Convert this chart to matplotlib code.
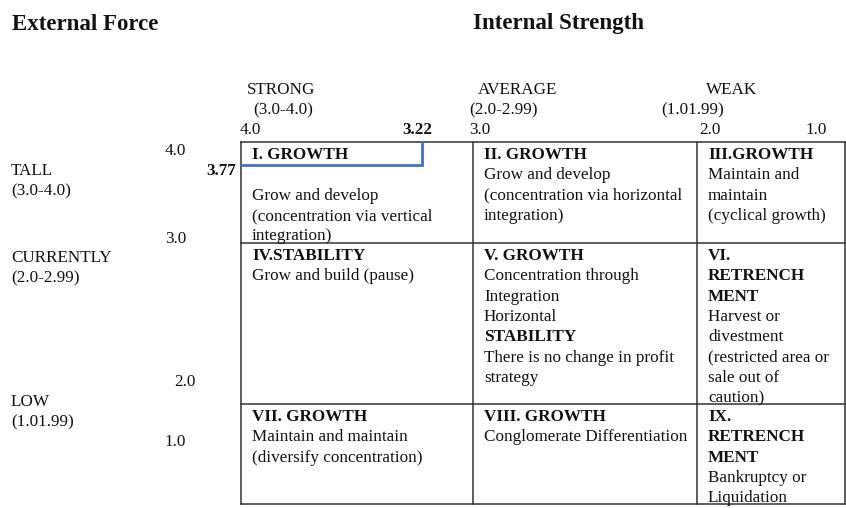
import matplotlib.pyplot as plt

# --- Données ---
internal_score = 3.22   # force interne (axe horizontal)
external_score = 3.77   # force externe (axe vertical)

col_names = ["STRONG", "AVERAGE", "WEAK"]
col_ranges = ["(3.0-4.0)", "(2.0-2.99)", "(1.01.99)"]
col_ticks = ["4.0", "3.0", "2.0", "1.0"]
row_names = ["TALL", "CURRENTLY", "LOW"]
row_ranges = ["(3.0-4.0)", "(2.0-2.99)", "(1.01.99)"]
row_ticks = ["4.0", "3.0", "2.0", "1.0"]

# chaque cellule : liste de (texte, gras)
cells = [
    [("I. GROWTH", True), ("", False), ("Grow and develop", False),
     ("(concentration via vertical", False), ("integration)", False)],
    [("II. GROWTH", True), ("Grow and develop", False),
     ("(concentration via horizontal", False), ("integration)", False)],
    [("III.GROWTH", True), ("Maintain and", False), ("maintain", False),
     ("(cyclical growth)", False)],
    [("IV.STABILITY", True), ("Grow and build (pause)", False)],
    [("V. GROWTH", True), ("Concentration through", False), ("Integration", False),
     ("Horizontal", False), ("STABILITY", True),
     ("There is no change in profit", False), ("strategy", False)],
    [("VI.", True), ("RETRENCH", True), ("MENT", True), ("Harvest or", False),
     ("divestment", False), ("(restricted area or", False), ("sale out of", False),
     ("caution)", False)],
    [("VII. GROWTH", True), ("Maintain and maintain", False),
     ("(diversify concentration)", False)],
    [("VIII. GROWTH", True), ("Conglomerate Differentiation", False)],
    [("IX.", True), ("RETRENCH", True), ("MENT", True), ("Bankruptcy or", False),
     ("Liquidation", False)],
]

# --- Mise en page (pixels) ---
W, H = 846, 508
col_edges = [241, 473, 697, 845]
row_edges = [142, 243, 404, 504]
fs = 12.3
fs_title = 16.5
font = "Liberation Serif"
line_h = 20.3
dy = 2  # petit décalage vertical du texte

fig = plt.figure(figsize=(W / 100, H / 100), dpi=100)
ax = fig.add_axes([0, 0, 1, 1])
ax.set_xlim(0, W)
ax.set_ylim(H, 0)
ax.axis("off")

def txt(x, y, s, ha="left", bold=False, size=fs):
    ax.text(x, y + dy, s, ha=ha, va="center", fontsize=size, family=font,
            fontweight="bold" if bold else "normal", color="#111111")

# titres
txt(12, 22, "External Force", bold=True, size=fs_title)
txt(473, 22, "Internal Strength", bold=True, size=fs_title)

# en-têtes colonnes
col_name_x = [247, 478, 706]
col_range_x = [253, 469, 661]
for i in range(3):
    txt(col_name_x[i], 88, col_names[i])
    txt(col_range_x[i], 108, col_ranges[i])
txt(240, 128, col_ticks[0])
txt(469, 128, col_ticks[1])
txt(699, 128, col_ticks[2])
txt(827, 128, col_ticks[3], ha="right")
txt(432, 128, f"{internal_score:.2f}", ha="right", bold=True)

# en-têtes lignes
row_name_y = [169, 256, 400]
for i in range(3):
    txt(11, row_name_y[i], row_names[i])
    txt(11, row_name_y[i] + 20, row_ranges[i])
txt(165, 149, row_ticks[0])
txt(165, 237, row_ticks[1])
txt(174, 380, row_ticks[2])
txt(165, 440, row_ticks[3])
txt(236, 169, f"{external_score:.2f}", ha="right", bold=True)

# grille
grid_c = "#333333"
for x in col_edges:
    ax.plot([x, x], [row_edges[0], row_edges[-1]], color=grid_c, lw=1.1)
for y in row_edges:
    ax.plot([col_edges[0], col_edges[-1]], [y, y], color=grid_c, lw=1.1)

# texte des cellules
for k, lines in enumerate(cells):
    r, c = divmod(k, 3)
    x0 = col_edges[c] + 11
    y0 = row_edges[r] + 11
    for j, (s, b) in enumerate(lines):
        if s:
            txt(x0, y0 + j * line_h, s, bold=b)

# position de l'entreprise dans la cellule I (échelle 4.0 -> 3.0)
cell_ax = fig.add_axes([col_edges[0] / W, 1 - row_edges[1] / H,
                        (col_edges[1] - col_edges[0]) / W,
                        (row_edges[1] - row_edges[0]) / H])
cell_ax.set_xlim(4.0, 3.0)
cell_ax.set_ylim(3.0, 4.0)
cell_ax.axis("off")
cell_ax.patch.set_alpha(0)
cell_ax.plot([4.0, internal_score, internal_score],
             [external_score, external_score, 4.0],
             color="#4472C4", lw=2.0, solid_joinstyle="miter")

fig.savefig("out.png", dpi=100)
